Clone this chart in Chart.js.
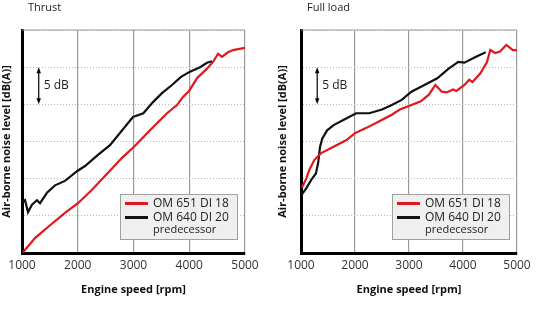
<!DOCTYPE html>
<html>
<head>
<meta charset="utf-8">
<script src="https://cdn.jsdelivr.net/npm/chart.js@4.4.1/dist/chart.umd.min.js"></script>
<style>
  body { margin: 0; background: #fff; }
  #wrap { position: relative; width: 544px; height: 316px; }
  .panel { position: absolute; top: 0; width: 272px; height: 316px; }
</style>
</head>
<body>
<div id="wrap">
  <div class="panel" style="left:0"><canvas id="thrustChart"></canvas></div>
  <div class="panel" style="left:272px"><canvas id="fullLoadChart"></canvas></div>
</div>
<script>
const seriesNames = ["OM 651 DI 18", "OM 640 DI 20"];
const seriesColors = ["#e3161b", "#111111"];
const speedTicks = [1000, 2000, 3000, 4000, 5000];

// Thrust, engine speed [rpm] / level [dB]
const thrustNewRpm = [1018, 1233, 1466, 1771, 2004, 2256, 2543, 2794, 3009, 3296, 3601, 3780, 3888, 3996, 4139, 4318, 4426, 4516, 4587, 4695, 4785, 5000];
const thrustNewDb  = [0.1, 2.0, 3.5, 5.4, 6.7, 8.5, 10.8, 12.8, 14.3, 16.5, 18.8, 19.9, 21.0, 21.8, 23.5, 24.8, 25.7, 26.8, 26.4, 27.0, 27.3, 27.6];
const thrustOldRpm = [1018, 1054, 1108, 1179, 1269, 1323, 1448, 1592, 1771, 1987, 2130, 2363, 2578, 2991, 3176, 3350, 3511, 3690, 3852, 4013, 4193, 4318, 4408];
const thrustOldDb  = [6.9, 7.1, 5.5, 6.5, 7.1, 6.7, 8.1, 9.1, 9.7, 11.0, 11.7, 13.2, 14.5, 18.3, 18.8, 20.3, 21.5, 22.6, 23.7, 24.4, 25.0, 25.6, 25.8];

// Full load
const fullNewRpm = [1018, 1097, 1156, 1246, 1366, 1604, 1843, 1994, 2202, 2442, 2681, 2830, 3009, 3219, 3368, 3488, 3608, 3698, 3816, 3877, 4026, 4115, 4175, 4326, 4444, 4505, 4595, 4684, 4803, 4923, 5000];
const fullNewDb  = [8.8, 10.0, 11.2, 12.5, 13.4, 14.3, 15.2, 16.1, 16.8, 17.7, 18.6, 19.3, 19.8, 20.4, 21.3, 22.6, 21.7, 21.6, 22.0, 21.8, 22.6, 23.3, 23.0, 24.2, 25.7, 27.3, 26.9, 27.1, 28.0, 27.3, 27.3];
const fullOldRpm = [1007, 1097, 1187, 1276, 1317, 1353, 1395, 1484, 1604, 1784, 2022, 2263, 2501, 2681, 2865, 3045, 3285, 3524, 3734, 3913, 4026, 4241, 4421];
const fullOldDb  = [7.8, 8.7, 9.8, 10.7, 12.1, 14.3, 15.4, 16.5, 17.2, 17.9, 18.8, 18.8, 19.3, 19.9, 20.6, 21.7, 22.6, 23.5, 24.8, 25.7, 25.6, 26.4, 27.0];

const FONT = "'Open Sans', 'DejaVu Sans', sans-serif";

function pts(xs, ys) {
  return xs.map((x, i) => ({ x: x, y: ys[i] }));
}

// panel title, top frame line, 5 dB marker and boxed legend
const panelPlugin = {
  id: 'panel',
  beforeDatasetsDraw(chart) {
    const { ctx, chartArea: a } = chart;
    ctx.save();
    ctx.strokeStyle = '#999';
    ctx.lineWidth = 1.2;
    ctx.beginPath();
    ctx.moveTo(a.left, a.top);
    ctx.lineTo(a.right, a.top);
    ctx.stroke();
    ctx.restore();
  },
  afterDraw(chart, args, opts) {
    const { ctx, chartArea: a, scales } = chart;
    ctx.save();
    ctx.fillStyle = '#222';
    ctx.font = "11px " + FONT;
    ctx.textBaseline = 'middle';
    ctx.fillText(opts.title, a.left + 6, 8);

    // 5 dB arrow
    const ax = scales.x.getPixelForValue(1300);
    const y1 = scales.y.getPixelForValue(25);
    const y2 = scales.y.getPixelForValue(20);
    ctx.strokeStyle = '#000';
    ctx.fillStyle = '#000';
    ctx.lineWidth = 1.2;
    ctx.beginPath();
    ctx.moveTo(ax, y1 + 3);
    ctx.lineTo(ax, y2 - 3);
    ctx.stroke();
    ctx.beginPath();
    ctx.moveTo(ax, y1); ctx.lineTo(ax - 2.2, y1 + 6); ctx.lineTo(ax + 2.2, y1 + 6); ctx.closePath();
    ctx.moveTo(ax, y2); ctx.lineTo(ax - 2.2, y2 - 6); ctx.lineTo(ax + 2.2, y2 - 6); ctx.closePath();
    ctx.fill();
    ctx.fillStyle = '#222';
    ctx.font = "12px " + FONT;
    ctx.fillText("5 dB", ax + 5, (y1 + y2) / 2);

    // legend box
    const w = 118, h = 46;
    const bx = a.right - 7 - w, by = a.bottom - 13 - h;
    ctx.fillStyle = '#efefef';
    ctx.fillRect(bx, by, w, h);
    ctx.strokeStyle = '#a0a0a0';
    ctx.lineWidth = 1;
    ctx.strokeRect(bx + 0.5, by + 0.5, w - 1, h - 1);
    const rows = [by + 9.5, by + 23.5];
    chart.data.datasets.forEach((ds, i) => {
      ctx.strokeStyle = ds.borderColor;
      ctx.lineWidth = 3;
      ctx.beginPath();
      ctx.moveTo(bx + 5, rows[i]);
      ctx.lineTo(bx + 28, rows[i]);
      ctx.stroke();
      ctx.fillStyle = '#222';
      ctx.font = "12px " + FONT;
      ctx.fillText(ds.label, bx + 33, rows[i]);
    });
    ctx.font = "11px " + FONT;
    ctx.fillText("predecessor", bx + 33, by + 36);
    ctx.restore();
  }
};

function makeChart(id, title, newRpm, newDb, oldRpm, oldDb, leftW, titlePad) {
  const ctx = document.getElementById(id).getContext('2d');
  return new Chart(ctx, {
    type: 'line',
    data: {
      datasets: [
        { label: seriesNames[0], data: pts(newRpm, newDb), borderColor: seriesColors[0], borderWidth: 2.2, pointRadius: 0, tension: 0, fill: false },
        { label: seriesNames[1], data: pts(oldRpm, oldDb), borderColor: seriesColors[1], borderWidth: 2.2, pointRadius: 0, tension: 0, fill: false }
      ]
    },
    options: {
      responsive: false,
      animation: false,
      devicePixelRatio: 1,
      layout: { padding: { left: 0, right: 27, top: 30, bottom: 0 } },
      plugins: {
        legend: { display: false },
        tooltip: { enabled: false },
        panel: { title: title }
      },
      scales: {
        x: {
          type: 'linear',
          min: 1000,
          max: 5000,
          afterBuildTicks: s => { s.ticks = speedTicks.map(v => ({ value: v })); },
          afterFit: s => { s.height = 63; },
          grid: { color: '#999', lineWidth: 1.2, drawTicks: false },
          border: { color: '#000', width: 3 },
          ticks: { color: '#333', padding: 5, font: { family: FONT, size: 12 }, callback: v => String(v) },
          title: { display: true, text: 'Engine speed [rpm]', color: '#111', padding: { top: 0, bottom: 20 }, font: { family: FONT, size: 11, weight: 'bold' } }
        },
        y: {
          min: 0,
          max: 30,
          ticks: { display: false, stepSize: 5 },
          afterFit: s => { s.width = leftW; },
          grid: { color: '#b8b8b8', lineWidth: 1, drawTicks: false },
          border: { color: '#000', width: 3, dash: [1, 2] },
          title: { display: true, text: 'Air-borne noise level [dB(A)]', color: '#111', padding: { top: titlePad, bottom: 0 }, font: { family: FONT, size: 11, weight: 'bold' } }
        }
      }
    },
    plugins: [panelPlugin]
  });
}

document.getElementById('thrustChart').width = 272;
document.getElementById('thrustChart').height = 316;
document.getElementById('fullLoadChart').width = 272;
document.getElementById('fullLoadChart').height = 316;

makeChart('thrustChart', 'Thrust', thrustNewRpm, thrustNewDb, thrustOldRpm, thrustOldDb, 22, 0);
makeChart('fullLoadChart', 'Full load', fullNewRpm, fullNewDb, fullOldRpm, fullOldDb, 29, 4);
</script>
</body>
</html>
